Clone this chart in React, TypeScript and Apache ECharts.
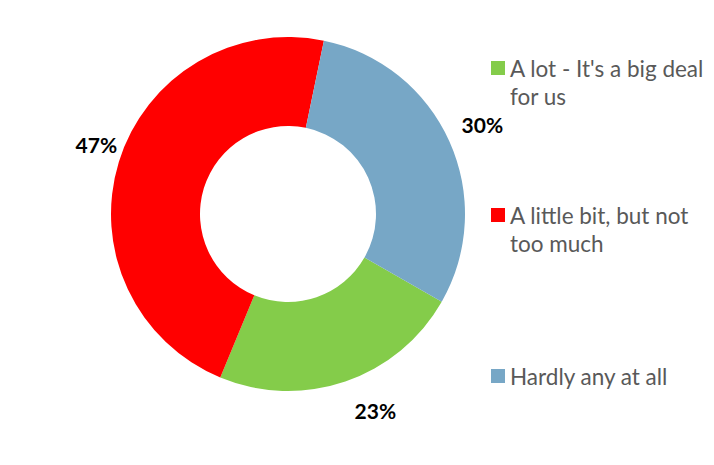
import React, { useEffect, useRef } from "react";
import * as echarts from "echarts";

const categories = ["A lot - It's a big deal for us", "A little bit, but not too much", "Hardly any at all"];
const values = [23, 47, 30];
const colors = ["#84CC4A", "#FF0000", "#77A7C6"];

const CX = 288;
const CY = 214;
const START_ANGLE = -29.7;
const LABEL_R = 211;
const LABEL_NUDGE = [[19, -3], [10, -7], [2, -3]];

// legend markers: a square at the top of the item box (wrapped two-line names)
// or in the middle of it (one-line names); the zero-area lines only fix the box size
const ICON_TOP = "path://M0,0h14v14h-14zM0,42h14";
const ICON_MID = "path://M0,0h14M0,14h14v14h-14zM0,42h14";

export default function App() {
  const ref = useRef<HTMLDivElement>(null);
  useEffect(() => {
    if (!ref.current) return;
    const chart = echarts.init(ref.current, null, { renderer: "svg" });
    const total = values.reduce((a, b) => a + b, 0);
    const mids: number[] = [];
    let acc = 0;
    values.forEach((v) => {
      mids.push(START_ANGLE - ((acc + v / 2) / total) * 360);
      acc += v;
    });
    chart.setOption({
      animation: false,
      backgroundColor: "#ffffff",
      color: colors,
      legend: {
        orient: "vertical",
        left: 491,
        top: 54,
        padding: 0,
        itemWidth: 14,
        itemHeight: 42,
        itemGap: 91,
        selectedMode: false,
        textStyle: {
          fontFamily: "Lato",
          fontSize: 22.5,
          color: "#595959",
          lineHeight: 28,
          width: 210,
          overflow: "break",
        },
        data: categories.map((name, i) =>
          i < 2
            ? { name, icon: ICON_TOP }
            : { name, icon: ICON_MID, textStyle: { padding: [14, 0, 14, 0] } }
        ),
      },
      series: [
        {
          type: "pie",
          center: [CX, CY],
          radius: [88, 177],
          startAngle: START_ANGLE,
          clockwise: true,
          avoidLabelOverlap: false,
          emphasis: { disabled: true },
          itemStyle: { borderWidth: 0 },
          label: {
            show: true,
            position: "outside",
            formatter: "{c}%",
            fontFamily: "Lato",
            fontWeight: "bold",
            fontSize: 21,
            color: "#000000",
          },
          labelLine: { show: false },
          labelLayout: (params: any) => {
            const i = params.dataIndex;
            const a = (mids[i] * Math.PI) / 180;
            return {
              x: CX + LABEL_R * Math.cos(a) + LABEL_NUDGE[i][0],
              y: CY - LABEL_R * Math.sin(a) + LABEL_NUDGE[i][1],
              align: "center",
              verticalAlign: "middle",
            };
          },
          data: categories.map((name, i) => ({ name, value: values[i] })),
        },
      ],
    });
    return () => chart.dispose();
  }, []);
  return (
    <div
      ref={ref}
      style={{ position: "fixed", left: 0, top: 0, width: 714, height: 465 }}
    />
  );
}
